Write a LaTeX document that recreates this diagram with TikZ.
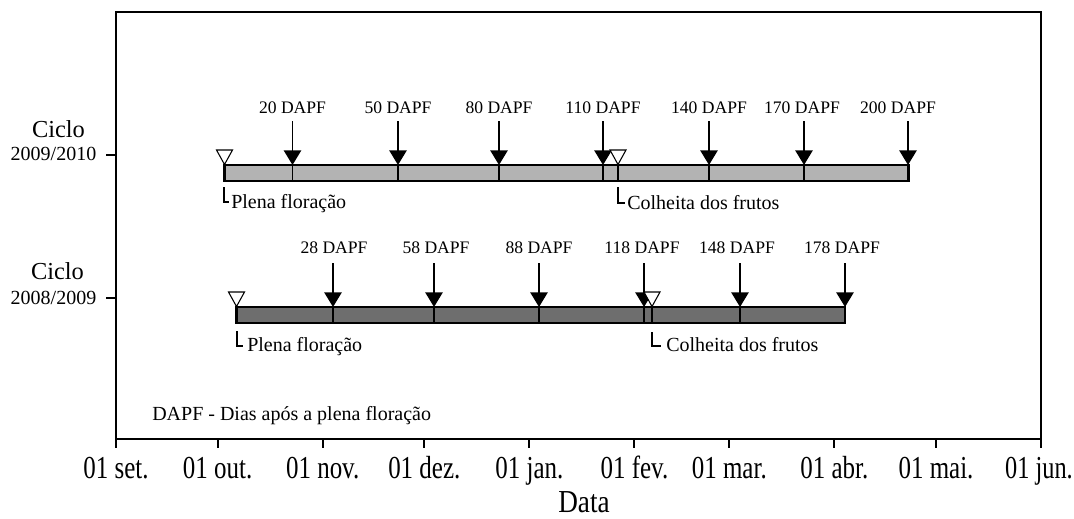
\documentclass[tikz,border=0pt]{standalone}
\usepackage{fontspec}
\usepackage{graphicx}
\setmainfont{Liberation Serif}
\usetikzlibrary{arrows.meta}
\definecolor{barlight}{HTML}{B3B3B3}
\definecolor{bardark}{HTML}{6E6E6E}
\begin{document}
\begin{tikzpicture}[x=0.75pt,y=-0.75pt,
  frameline/.style={line width=1.5pt},
  barbox/.style={line width=1.5pt},
  crossline/.style={line width=1pt},
  evarrow/.style={line width=1.25pt,-{Triangle[width=13pt,length=11pt]}},
  opentri/.style={line width=0.8pt,fill=white},
  bracket/.style={line width=0.9pt},
  dapf/.style={font=\fontsize{13.2}{15}\selectfont,inner sep=0pt},
  evtext/.style={font=\fontsize{15}{17}\selectfont,inner sep=0pt,anchor=base west},
  cicl/.style={font=\fontsize{18.3}{20}\selectfont,inner sep=0pt,anchor=base},
  yr/.style={font=\fontsize{15}{17}\selectfont,inner sep=0pt,anchor=base},
  axlab/.style={font=\fontsize{24}{26}\selectfont,inner sep=0pt,anchor=base},
]
\useasboundingbox (0,0) rectangle (1074,518);

% frame
\draw[frameline] (116,12) rectangle (1041,439);

% x axis ticks and labels
\foreach \x/\lab [count=\i] in {116/01 set., 217.6/01 out., 322.7/01 nov., 424.3/01 dez., 529.4/01 jan., 634.4/01 fev., 729.3/01 mar., 834.3/01 abr., 936/01 mai.}{
  \coordinate (xt\i) at (\x,439);
  \coordinate (xb\i) at (\x,448);
  \draw[frameline] (xt\i) -- (xb\i);
  \node[axlab] (ax\i) at (\x,478) {\scalebox{0.78}[1]{\lab}};
}
\coordinate (xt10) at (1041,439);
\coordinate (xb10) at (1041,448);
\draw[frameline] (xt10) -- (xb10);
\node[axlab] (ax10) at (1039,478) {\scalebox{0.76}[1]{01 jun.}};
\node[axlab] (data) at (584,512) {\scalebox{0.85}[1]{Data}};

% y axis ticks and labels
\coordinate (yt1a) at (106,154.5); \coordinate (yt1b) at (116,154.5);
\coordinate (yt2a) at (106,297.5); \coordinate (yt2b) at (116,297.5);
\draw[frameline] (yt1a) -- (yt1b);
\draw[frameline] (yt2a) -- (yt2b);
\node[cicl] (c1) at (58.5,137) {Ciclo};
\node[yr] (y1) at (53.5,160.5) {2009/2010};
\node[cicl] (c2) at (57.5,279) {Ciclo};
\node[yr] (y2) at (53.5,304) {2008/2009};

% bars
\draw[barbox,fill=barlight] (224,165) rectangle (909,181);
\draw[barbox,fill=bardark] (236,307) rectangle (845,322.5);

% cycle 2009/2010 arrows
\foreach \x/\lx/\d [count=\i] in {292.5/292.5/20, 398/398/50, 499/499/80, 603/603/110, 709/709/140, 804/802/170, 908/898/200}{
  \coordinate (ta\i) at (\x,121);
  \coordinate (ba\i) at (\x,165);
  \coordinate (ca\i) at (\x,181);
  \draw[crossline] (ba\i) -- (ca\i);
  \draw[evarrow] (ta\i) -- (ba\i);
  \node[dapf,anchor=base] (la\i) at (\lx,113) {\d\ DAPF};
}

% cycle 2008/2009 arrows
\foreach \x/\lx/\d [count=\i] in {333/334/28, 434/436/58, 539/539/88, 644/642/118, 740/737/148, 845/842/178}{
  \coordinate (tb\i) at (\x,263);
  \coordinate (bb\i) at (\x,307);
  \coordinate (cb\i) at (\x,322.5);
  \draw[crossline] (bb\i) -- (cb\i);
  \draw[evarrow] (tb\i) -- (bb\i);
  \node[dapf,anchor=base] (lb\i) at (\lx,253) {\d\ DAPF};
}

% open triangles (plena floracao / colheita)
\draw[barbox] (224.5,165) -- (224.5,181);
\draw[opentri] (216.5,150) -- (232.5,150) -- (224.5,164.5) -- cycle;
\draw[crossline] (618,165) -- (618,181);
\draw[opentri] (610,150) -- (626,150) -- (618,164.5) -- cycle;
\draw[barbox] (236.5,307) -- (236.5,322.5);
\draw[opentri] (228.5,292) -- (244.5,292) -- (236.5,306.5) -- cycle;
\draw[crossline] (652,307) -- (652,322.5);
\draw[opentri] (644,292) -- (660,292) -- (652,306.5) -- cycle;

% brackets and event texts
\coordinate (p1a) at (224,187); \coordinate (p1b) at (224,202); \coordinate (p1c) at (229,202);
\draw[bracket] (p1a) -- (p1b) -- (p1c);
\node[evtext] (pl1) at (231,208.5) {Plena floração};
\coordinate (k1a) at (618,187); \coordinate (k1b) at (618,203); \coordinate (k1c) at (625,203);
\draw[bracket] (k1a) -- (k1b) -- (k1c);
\node[evtext] (co1) at (627,209) {Colheita dos frutos};
\coordinate (p2a) at (237,331); \coordinate (p2b) at (237,346); \coordinate (p2c) at (243,346);
\draw[bracket] (p2a) -- (p2b) -- (p2c);
\node[evtext] (pl2) at (247,351.5) {Plena floração};
\coordinate (k2a) at (652,332); \coordinate (k2b) at (652,346); \coordinate (k2c) at (661,346);
\draw[bracket] (k2a) -- (k2b) -- (k2c);
\node[evtext] (co2) at (666,351.5) {Colheita dos frutos};

% legend
\node[evtext] (leg) at (152,420) {DAPF - Dias após a plena floração};
\end{tikzpicture}
\end{document}
